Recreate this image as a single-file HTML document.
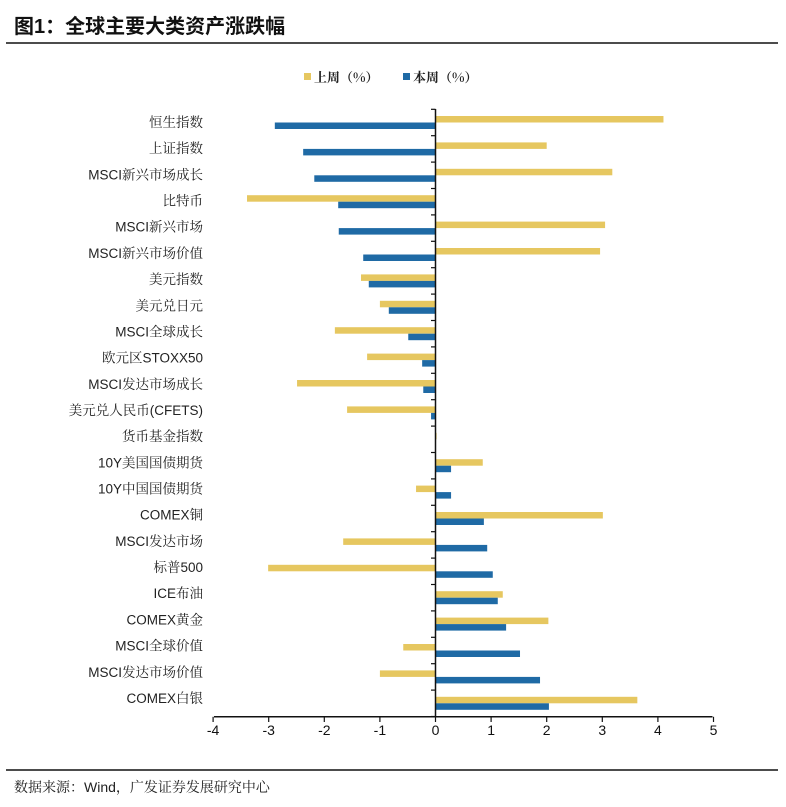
<!DOCTYPE html>
<html><head><meta charset="utf-8"><style>
html,body{margin:0;padding:0;background:#fff;}
svg{display:block;}
.lab{font-family:"Liberation Sans","Noto Serif CJK SC",serif;font-size:13.5px;fill:#222;}
.tk{font-family:"Liberation Sans",sans-serif;font-size:14px;fill:#111;}
</style></head><body>
<svg width="786" height="807" viewBox="0 0 786 807" xmlns="http://www.w3.org/2000/svg">
<text x="14" y="33" font-family="'Liberation Sans','Noto Sans CJK SC',sans-serif" font-size="20" font-weight="bold" fill="#111">图1：全球主要大类资产涨跌幅</text>
<line x1="6" y1="43" x2="778" y2="43" stroke="#111" stroke-width="1.5"/>
<rect x="304" y="73" width="7" height="7" fill="#E6C760"/>
<text x="314" y="82" font-family="'Noto Serif CJK SC',serif" font-size="13" font-weight="bold" fill="#222">上周（%）</text>
<rect x="403" y="73" width="7" height="7" fill="#1F6AA5"/>
<text x="413" y="82" font-family="'Noto Serif CJK SC',serif" font-size="13" font-weight="bold" fill="#222">本周（%）</text>
<g id="bars"></g>
<line x1="435.5" y1="109" x2="435.5" y2="717" stroke="#111" stroke-width="1.5"/>
<line x1="214" y1="716.8" x2="712.5" y2="716.8" stroke="#111" stroke-width="1.5"/>
<g id="ticks"></g>
<line x1="6" y1="770" x2="778" y2="770" stroke="#111" stroke-width="1.5"/>
<text x="14" y="792" font-family="'Noto Serif CJK SC',serif" font-size="14" fill="#222">数据来源：<tspan font-family="'Liberation Sans',sans-serif">Wind</tspan>，广发证券发展研究中心</text>
<script>
var d=[["恒生指数",4.1,-2.89],["上证指数",2.0,-2.38],["MSCI新兴市场成长",3.18,-2.18],["比特币",-3.39,-1.75],["MSCI新兴市场",3.05,-1.74],["MSCI新兴市场价值",2.96,-1.3],["美元指数",-1.34,-1.2],["美元兑日元",-1.0,-0.84],["MSCI全球成长",-1.81,-0.49],["欧元区STOXX50",-1.23,-0.24],["MSCI发达市场成长",-2.49,-0.22],["美元兑人民币(CFETS)",-1.59,-0.08],["货币基金指数",0.02,0],["10Y美国国债期货",0.85,0.28],["10Y中国国债期货",-0.35,0.28],["COMEX铜",3.01,0.87],["MSCI发达市场",-1.66,0.93],["标普500",-3.01,1.03],["ICE布油",1.21,1.12],["COMEX黄金",2.03,1.27],["MSCI全球价值",-0.58,1.52],["MSCI发达市场价值",-1.0,1.88],["COMEX白银",3.63,2.04]];
var ns="http://www.w3.org/2000/svg",z=435.5,u=55.6,g=document.getElementById("bars"),t=document.getElementById("ticks");
function el(p,n,a,tx){var e=document.createElementNS(ns,n);for(var k in a)e.setAttribute(k,a[k]);if(tx)e.textContent=tx;p.appendChild(e);return e;}
d.forEach(function(r,i){var c=122.5+i*26.4;
function bar(v,y,col){var x=v<0?z+v*u:z;el(g,"rect",{x:x,y:y,width:Math.abs(v*u),height:6.5,fill:col});}
bar(r[1],c-6.5,"#E6C760");bar(r[2],c,"#1F6AA5");
el(g,"text",{x:203,y:122+i*26.18+5,"text-anchor":"end","class":"lab"},r[0]);
el(t,"line",{x1:431,x2:435.5,y1:c-13.2,y2:c-13.2,stroke:"#111","stroke-width":1.2});
});
el(t,"line",{x1:431,x2:435.5,y1:122.5+22*26.4+13.2,y2:122.5+22*26.4+13.2,stroke:"#111","stroke-width":1.2});
for(var v=-4;v<=5;v++){var x=z+v*u;el(t,"line",{x1:x,x2:x,y1:716.8,y2:722,stroke:"#111","stroke-width":1.2});el(t,"text",{x:x,y:735,"text-anchor":"middle","class":"tk"},String(v));}
</script>
</svg>
</body></html>
